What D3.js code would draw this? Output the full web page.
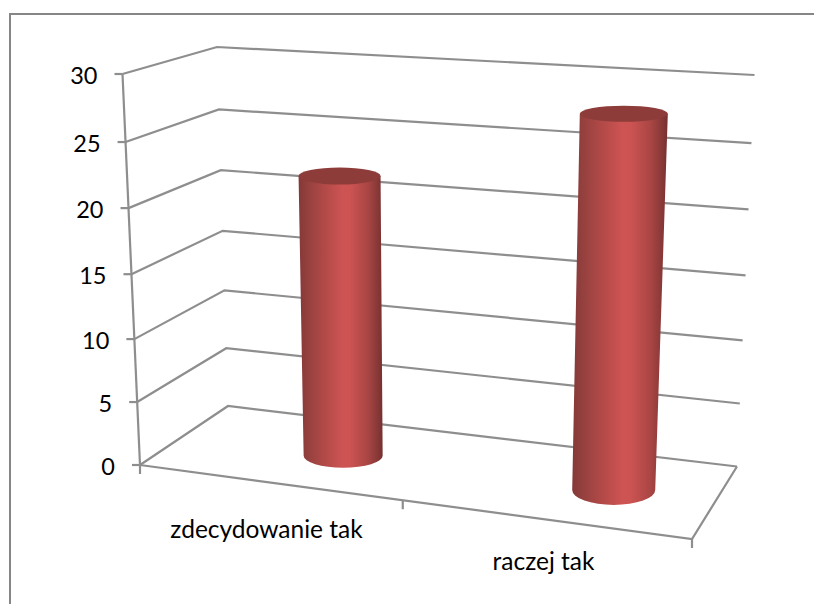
<!DOCTYPE html>
<html><head><meta charset="utf-8">
<script src="https://cdn.jsdelivr.net/npm/d3@7"></script>
<style>html,body{margin:0;padding:0;background:#fff}svg{display:block}</style>
</head><body><div id="chart"></div>
<script>
const categories = ["zdecydowanie tak", "raczej tak"];
const values = [22, 28];
const tickValues = [0, 5, 10, 15, 20, 25, 30];

const svg = d3.select("#chart").append("svg").attr("width", 814).attr("height", 604);
const defs = svg.append("defs");
const grad = defs.append("linearGradient").attr("id", "cyl");
[[0, "#843937"], [0.12, "#96413f"], [0.32, "#b34a48"], [0.52, "#cd5453"], [0.62, "#cb5352"], [0.82, "#a94644"], [0.95, "#853736"], [1, "#743030"]]
  .forEach(([o, c]) => grad.append("stop").attr("offset", o).attr("stop-color", c));

// chart frame: only the top and left edges are visible
svg.append("path").attr("d", "M10,604V14H814").attr("fill", "none").attr("stroke", "#868686").attr("stroke-width", 2);

// perspective box: u along categories, z into depth, t = height fraction
const heightFrac = d3.scaleLinear().domain(tickValues).range([0, 0.161, 0.322, 0.488, 0.657, 0.826, 1]);
const bx = {FL: [140, 122.5], BL: [228, 217], BR: [737, 754.5], FR: [692, 708]};
const by = {FL: [465, 74], BL: [406, 47], BR: [466.5, 75], FR: [539, 108]};
const lerp = (a, b, t) => a + (b - a) * t;
function project(u, z, v) {
  const t = heightFrac(v);
  const at = c => {
    const f = k => lerp(c[k][0], c[k][1], t);
    return lerp(lerp(f("FL"), f("FR"), u), lerp(f("BL"), f("BR"), u), z);
  };
  return [at(bx), at(by)];
}
const xPos = d3.scaleOrdinal().domain(categories).range([0.3, 0.81]);
const line = d3.line();
const grey = "#8e8e8e";
const g = svg.append("g").attr("fill", "none").attr("stroke", grey).attr("stroke-width", 2.2);

// gridlines on the side and back walls
g.selectAll(".grid").data(tickValues).join("path").attr("class", "grid")
  .attr("d", v => line([project(0, 0, v), project(0, 1, v), project(1, 1, v)]));
// floor
g.append("path").attr("d", line([project(0, 0, 0), project(1, 0, 0), project(1, 1, 0)]));
// value axis
g.append("path").attr("d", line([project(0, 0, 0), project(0, 0, 30)]));
// value ticks
g.selectAll(".vt").data(tickValues).join("path").attr("class", "vt")
  .attr("d", v => { const p = project(0, 0, v); return line([[p[0] - 8, p[1]], p]); });
// category ticks
g.selectAll(".ct").data([0, 0.476, 1]).join("path").attr("class", "ct")
  .attr("d", u => { const p = project(u, 0, 0); return line([p, [p[0], p[1] + 9]]); });

// cylinders
const rxTop = d3.scaleLinear().domain([0.3, 0.81]).range([41, 44]);
const rxBot = d3.scaleLinear().domain([0.3, 0.81]).range([39.5, 41.5]);
const ryTop = d3.scaleLinear().domain([0.3, 0.81]).range([8.5, 8]);
const ryBot = d3.scaleLinear().domain([0.3, 0.81]).range([12, 15]);
const bars = svg.append("g").selectAll("g").data(categories).join("g");
bars.append("path").attr("fill", "url(#cyl)").attr("d", (c, i) => {
  const u = xPos(c), b = project(u, 0.5, 0), t = project(u, 0.5, values[i]);
  const rt = rxTop(u), rb = rxBot(u), yb = ryBot(u);
  return `M${t[0] - rt},${t[1]}L${t[0] + rt},${t[1]}L${b[0] + rb},${b[1]}A${rb},${yb} 0 0 1 ${b[0] - rb},${b[1]}Z`;
});
bars.append("ellipse").attr("fill", "#8e3c39")
  .attr("cx", (c, i) => project(xPos(c), 0.5, values[i])[0])
  .attr("cy", (c, i) => project(xPos(c), 0.5, values[i])[1])
  .attr("rx", c => rxTop(xPos(c))).attr("ry", c => ryTop(xPos(c)));

// labels
const font = "Lato, Carlito, Calibri, sans-serif";
svg.append("g").selectAll("text").data(tickValues).join("text")
  .attr("x", v => project(0, 0, v)[0] - 25)
  .attr("y", v => project(0, 0, v)[1] + 9.5)
  .attr("text-anchor", "end").attr("font-family", font).attr("font-size", 23.5).attr("fill", "#000")
  .text(v => v);
const labelPos = d3.scaleOrdinal().domain(categories).range([[266.5, 538], [543.5, 570]]);
svg.append("g").selectAll("text").data(categories).join("text")
  .attr("x", c => labelPos(c)[0]).attr("y", c => labelPos(c)[1])
  .attr("text-anchor", "middle").attr("font-family", font).attr("font-size", 24.5).attr("fill", "#000")
  .text(c => c);
</script></body></html>
